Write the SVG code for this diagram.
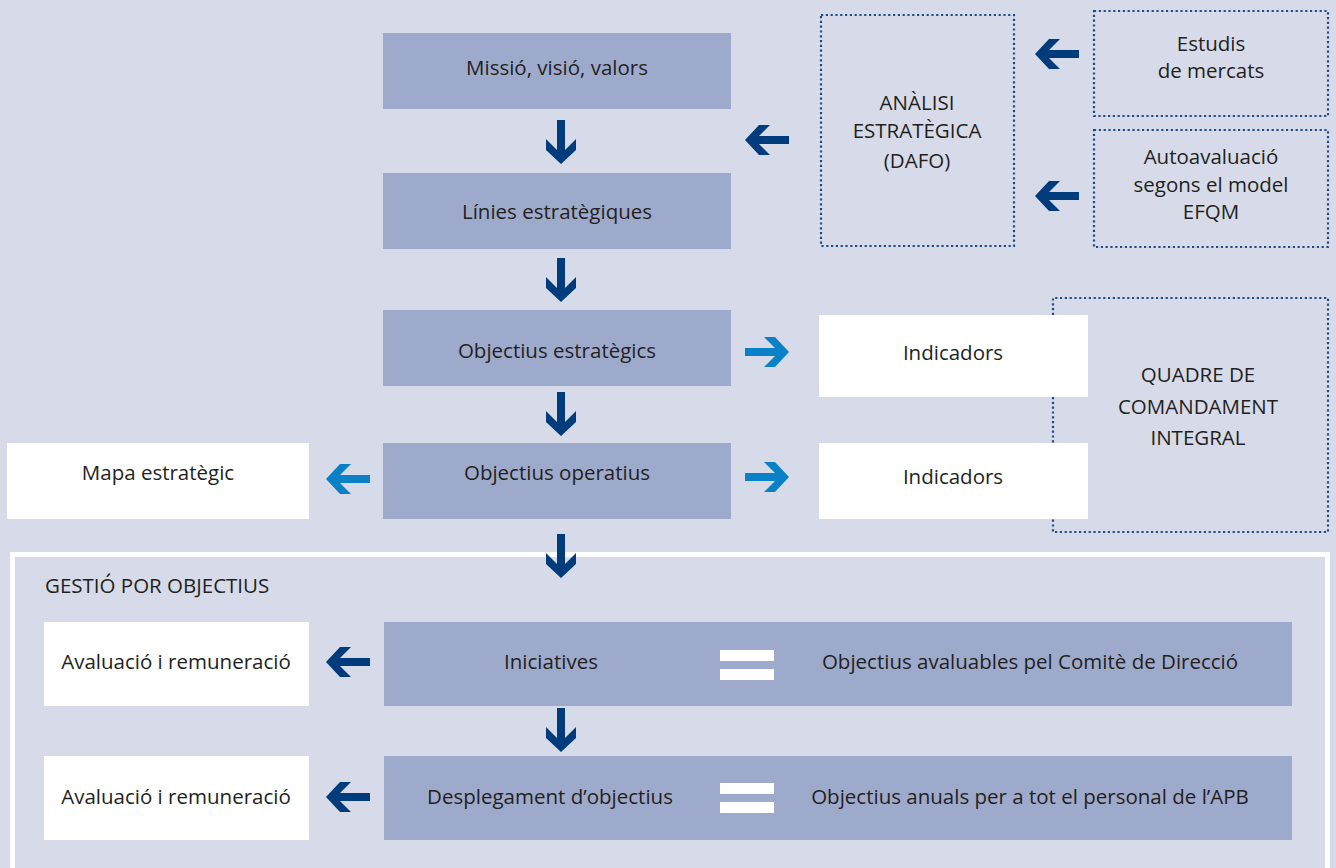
<svg xmlns="http://www.w3.org/2000/svg" width="1336" height="868" viewBox="0 0 1336 868">
<style>
text{font-family:"Open Sans","Noto Sans","Liberation Sans",sans-serif;font-size:20.5px;fill:#231f20;text-anchor:middle}
.box{fill:#9eaacc}
.wbox{fill:#ffffff}
.dot{fill:none;stroke:#1d4c87;stroke-width:2.2;stroke-dasharray:2.2 2.6}
.dk{fill:#003b7b}
.lt{fill:#0a80c6}
</style>
<defs>
<path id="arr" d="M -4,-44 H 4 V -14 L 15,-25 V -14 L 0,0 L -15,-14 V -25 L -4,-14 Z"/>
</defs>
<rect x="0" y="0" width="1336" height="868" fill="#d7dbe9"/>
<rect x="12.5" y="554.5" width="1315" height="330" fill="none" stroke="#ffffff" stroke-width="5"/>

<g id="n-mission"><rect class="box" x="383" y="33" width="348" height="76"/><text x="557" y="75">Missió, visió, valors</text></g>
<g id="n-linies"><rect class="box" x="383" y="173" width="348" height="76"/><text x="557" y="219">Línies estratègiques</text></g>
<g id="n-obj-estr"><rect class="box" x="383" y="310" width="348" height="76"/><text x="557" y="358">Objectius estratègics</text></g>
<g id="n-obj-oper"><rect class="box" x="383" y="443" width="348" height="76"/><text x="557" y="480">Objectius operatius</text></g>
<g id="n-mapa"><rect class="wbox" x="7" y="443" width="302" height="76"/><text x="158" y="480">Mapa estratègic</text></g>
<g id="n-ind1"><rect class="wbox" x="819" y="315" width="269" height="82"/><text x="953" y="360">Indicadors</text></g>
<g id="n-ind2"><rect class="wbox" x="819" y="443" width="269" height="76"/><text x="953" y="484">Indicadors</text></g>
<g id="n-quadre"><path class="dot" d="M1053,315 V298 H1328 V532 H1053 V519 M1053,397 V443"/><text x="1198" y="382">QUADRE DE</text><text x="1198" y="414">COMANDAMENT</text><text x="1198" y="445">INTEGRAL</text></g>
<g id="n-analisi"><rect class="dot" x="821" y="15" width="193" height="231"/><text x="917" y="110">ANÀLISI</text><text x="917" y="138">ESTRATÈGICA</text><text x="917" y="168">(DAFO)</text></g>
<g id="n-estudis"><rect class="dot" x="1094" y="11" width="234" height="105"/><text x="1211" y="51">Estudis</text><text x="1211" y="78">de mercats</text></g>
<g id="n-auto"><rect class="dot" x="1094" y="130" width="234" height="117"/><text x="1211" y="164">Autoavaluació</text><text x="1211" y="192">segons el model</text><text x="1211" y="219">EFQM</text></g>
<g id="n-gestio"><text x="45" y="593" style="text-anchor:start">GESTIÓ POR OBJECTIUS</text></g>
<g id="n-aval1"><rect class="wbox" x="44" y="622" width="265" height="84"/><text x="176" y="669">Avaluació i remuneració</text></g>
<g id="n-aval2"><rect class="wbox" x="44" y="756" width="265" height="84"/><text x="176" y="804">Avaluació i remuneració</text></g>
<g id="n-inic"><rect class="box" x="384" y="622" width="908" height="84"/><text x="551" y="669">Iniciatives</text><rect fill="#ffffff" x="720" y="650" width="54" height="11"/><rect fill="#ffffff" x="720" y="669" width="54" height="11"/><text x="1030" y="669">Objectius avaluables pel Comitè de Direcció</text></g>
<g id="n-despl"><rect class="box" x="384" y="756" width="908" height="84"/><text x="550" y="804">Desplegament d’objectius</text><rect fill="#ffffff" x="720" y="783" width="54" height="11"/><rect fill="#ffffff" x="720" y="802" width="54" height="11"/><text x="1030" y="804">Objectius anuals per a tot el personal de l’APB</text></g>

<g id="connectors">
<use href="#arr" class="dk" transform="translate(561,164)"/>
<use href="#arr" class="dk" transform="translate(561,302)"/>
<use href="#arr" class="dk" transform="translate(561,436)"/>
<use href="#arr" class="dk" transform="translate(561,578)"/>
<use href="#arr" class="dk" transform="translate(561,752)"/>
<use href="#arr" class="dk" transform="translate(745,140) rotate(90)"/>
<use href="#arr" class="dk" transform="translate(1035,54) rotate(90)"/>
<use href="#arr" class="dk" transform="translate(1035,196) rotate(90)"/>
<use href="#arr" class="lt" transform="translate(789,352) rotate(-90)"/>
<use href="#arr" class="lt" transform="translate(789,477) rotate(-90)"/>
<use href="#arr" class="lt" transform="translate(326,479) rotate(90)"/>
<use href="#arr" class="dk" transform="translate(326,662) rotate(90)"/>
<use href="#arr" class="dk" transform="translate(326,797) rotate(90)"/>
</g>
</svg>
